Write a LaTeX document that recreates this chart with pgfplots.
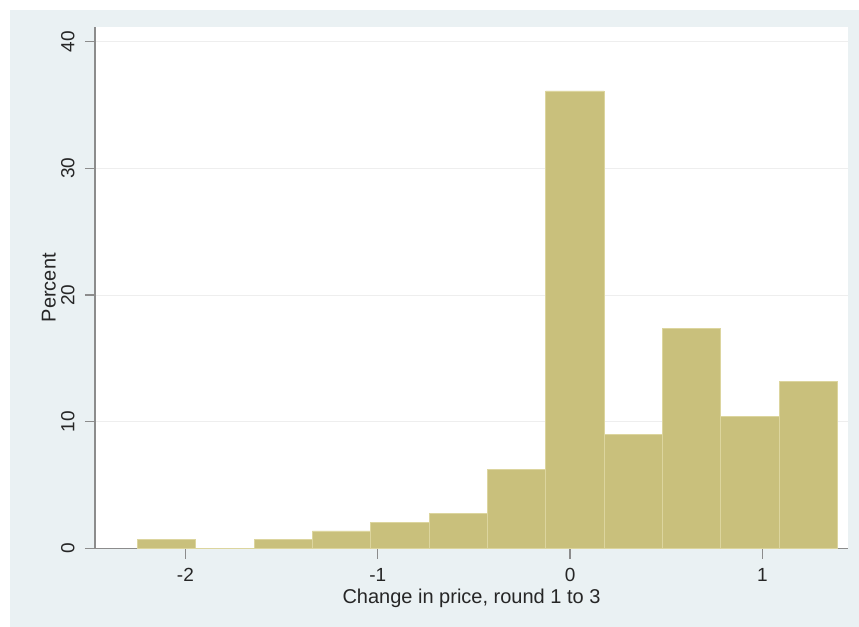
\documentclass[border=0pt]{standalone}
\usepackage{pgfplots}
\pgfplotsset{compat=1.18}
\usepackage{fontspec}
\setmainfont{Liberation Sans}
\definecolor{bgblue}{HTML}{EAF1F3}
\definecolor{khaki}{HTML}{C9C07C}
\definecolor{barline}{HTML}{DCD59E}
\definecolor{axgray}{HTML}{8C8C8C}
\definecolor{gridgray}{HTML}{EEEEEE}
\pgfplotsset{layers/mine/.define layer set={axis background,axis grid,pre main,main,axis ticks,axis lines,axis tick labels,axis descriptions,axis foreground}{}}
\begin{document}
\begin{tikzpicture}
\fill[white] (-95bp,-78.5bp) rectangle (764bp,548.5bp);
\fill[bgblue] (-85bp,-78.5bp) rectangle (764bp,538.5bp);
\begin{axis}[
  set layers=mine,
  at={(0,0)}, anchor=south west,
  scale only axis, width=753bp, height=521.5bp,
  xmin=-2.47, xmax=1.445, ymin=0, ymax=41.16,
  axis x line*=bottom, axis y line*=left,
  axis line style={-, axgray, line width=1.5bp},
  tick align=outside, major tick length=10bp,
  tick style={axgray, line width=1.2bp},
  xtick={-2,-1,0,1}, xticklabels={-2,-1,0,1},
  ytick={0,10,20,30,40}, yticklabels={0,10,20,30,40},
  ymajorgrids, grid style={gridgray, line width=0.8bp},
  axis background/.style={fill=white},
  ticklabel style={font=\fontsize{19bp}{21bp}\selectfont, text=black!85},
  yticklabel style={xshift=-7bp, rotate=90, anchor=south},
  xticklabel style={yshift=-6bp},
  xlabel={Change in price, round 1 to 3}, ylabel={Percent},
  label style={font=\fontsize{20bp}{23bp}\selectfont, text=black!85},
  xlabel style={at={(axis description cs:0.5,-0.1045)}, anchor=base},
  ylabel style={at={(axis description cs:-0.0474,0.5)}, anchor=south},
]
\addplot[ybar interval, fill=khaki, draw=barline, line width=0.8bp] coordinates {
(-2.25,0.694) (-1.9467,0) (-1.6433,0.694) (-1.34,1.389) (-1.0367,2.083)
(-0.7333,2.778) (-0.43,6.25) (-0.1267,36.111) (0.1767,9.028) (0.48,17.361)
(0.7833,10.417) (1.0867,13.194) (1.39,0)
};
\end{axis}
\pgfresetboundingbox
\path[use as bounding box] (-95bp,-78.5bp) rectangle (764bp,548.5bp);
\end{tikzpicture}
\end{document}
